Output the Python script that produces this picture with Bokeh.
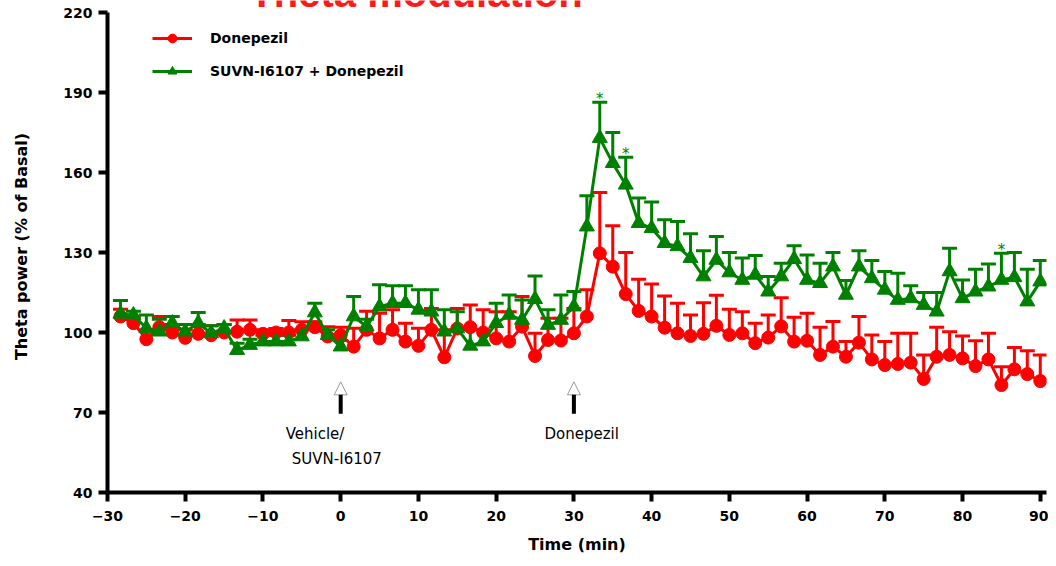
from bokeh.plotting import figure
from bokeh.models import (ColumnDataSource, Whisker, TeeHead, FixedTicker, Legend,
                          LegendItem, Arrow, NormalHead, Range1d)
from bokeh.core.properties import value
from bokeh.embed import file_html
from bokeh.resources import INLINE

# ---------------- data ----------------
time = [-28.33, -26.67, -25.0, -23.33, -21.67, -20.0, -18.33, -16.67, -15.0, -13.33,
        -11.67, -10.0, -8.33, -6.67, -5.0, -3.33, -1.67, 0.0, 1.67, 3.33,
        5.0, 6.67, 8.33, 10.0, 11.67, 13.33, 15.0, 16.67, 18.33, 20.0,
        21.67, 23.33, 25.0, 26.67, 28.33, 30.0, 31.67, 33.33, 35.0, 36.67,
        38.33, 40.0, 41.67, 43.33, 45.0, 46.67, 48.33, 50.0, 51.67, 53.33,
        55.0, 56.67, 58.33, 60.0, 61.67, 63.33, 65.0, 66.67, 68.33, 70.0,
        71.67, 73.33, 75.0, 76.67, 78.33, 80.0, 81.67, 83.33, 85.0, 86.67,
        88.33, 90.0]

donepezil_mean = [106.0, 103.5, 97.5, 102.0, 100.0, 98.0, 99.5, 99.0, 100.0, 100.3,
                  101.0, 99.5, 100.0, 100.0, 101.0, 102.0, 98.5, 99.0, 94.7, 101.0,
                  97.8, 101.0, 96.6, 95.0, 101.0, 90.7, 101.5, 102.0, 100.0, 97.8,
                  96.6, 102.2, 91.2, 97.2, 97.0, 99.7, 106.0, 129.7, 124.7, 114.4,
                  108.1, 106.0, 101.8, 99.7, 98.7, 99.5, 102.5, 99.1, 99.7, 96.0,
                  98.1, 102.3, 96.6, 96.9, 91.6, 94.7, 90.9, 96.2, 89.9, 87.8,
                  88.2, 88.7, 82.6, 90.9, 91.6, 90.3, 87.4, 89.9, 80.3, 86.2,
                  84.4, 81.8]

donepezil_upper = [108.7, 106.0, 101.0, 106.0, 103.0, 101.0, 103.0, 102.5, 103.0, 104.7,
                   104.7, 101.0, 101.5, 104.5, 104.0, 104.0, 102.2, 102.0, 101.6, 108.0,
                   107.2, 108.5, 103.5, 101.6, 109.0, 101.0, 109.0, 110.3, 108.5, 107.8,
                   107.8, 113.5, 99.7, 105.3, 105.3, 109.0, 116.0, 152.5, 140.0, 130.0,
                   120.0, 118.2, 113.7, 111.0, 106.6, 111.2, 114.0, 108.7, 107.8, 103.5,
                   106.6, 113.0, 105.7, 107.2, 102.0, 104.1, 96.6, 106.0, 99.1, 96.6,
                   99.7, 99.7, 91.6, 102.0, 100.3, 98.7, 96.9, 99.7, 87.2, 94.4,
                   93.2, 91.6]

combo_mean = [107.0, 106.5, 101.6, 100.3, 103.5, 100.3, 103.5, 99.7, 101.6, 93.4,
              95.3, 96.6, 96.6, 96.6, 98.5, 107.5, 99.0, 94.7, 106.0, 102.2,
              109.7, 111.0, 111.0, 108.5, 107.8, 100.3, 101.5, 95.0, 96.6, 103.5,
              106.6, 104.7, 112.5, 102.8, 104.7, 109.7, 139.7, 172.9, 163.5, 155.4,
              141.0, 139.1, 133.5, 132.3, 127.9, 121.0, 127.2, 122.5, 119.7, 121.6,
              115.3, 121.0, 127.5, 119.7, 118.5, 124.7, 114.1, 124.7, 120.3, 116.0,
              112.2, 112.8, 110.3, 107.8, 122.9, 112.8, 115.3, 117.2, 119.7, 120.7,
              111.6, 119.1]

combo_upper = [112.0, 108.0, 106.6, 105.0, 106.0, 103.0, 107.5, 102.5, 103.0, 96.0,
               97.5, 99.0, 99.0, 99.0, 101.0, 111.0, 101.0, 97.0, 113.5, 105.0,
               117.9, 117.5, 117.5, 116.0, 116.0, 108.5, 107.8, 101.0, 101.0, 111.0,
               114.1, 112.2, 121.2, 108.5, 114.1, 115.4, 151.3, 186.3, 175.0, 165.7,
               150.4, 148.9, 142.3, 141.6, 137.0, 130.7, 136.0, 130.0, 127.9, 128.9,
               121.0, 126.0, 132.5, 129.1, 126.0, 130.0, 119.5, 130.7, 127.0, 122.9,
               122.2, 117.5, 115.0, 115.0, 131.6, 119.7, 123.7, 125.7, 129.7, 130.0,
               123.7, 127.0]

significant_index = [37, 39, 68]          # points marked with "*"

x_ticks = [-30, -20, -10, 0, 10, 20, 30, 40, 50, 60, 70, 80, 90]
y_ticks = [40, 70, 100, 130, 160, 190, 220]

event_times = [0, 30]
event_text_x = [-3.3, -0.5, 31.0]
event_text_y = [61.9, 52.5, 61.9]
event_texts = ["Vehicle/", "SUVN-I6107", "Donepezil"]

title_text = ["Theta modulation"]
title_x = [9.7]
title_y = [222.5]

RED = "#ff0000"
GREEN = "#008000"
FONT = "DejaVu Sans"

# ---------------- figure ----------------
p = figure(width=1048, height=558, output_backend="svg", toolbar_location=None,
           title=None, x_range=Range1d(-30, 90.8), y_range=Range1d(40, 224.5),
           min_border_left=107, min_border_right=2, min_border_top=0, min_border_bottom=66)
p.xgrid.visible = False
p.ygrid.visible = False
p.outline_line_color = None
p.background_fill_color = "white"

p.xaxis.ticker = FixedTicker(ticks=x_ticks)
p.yaxis.ticker = FixedTicker(ticks=y_ticks)
p.yaxis.bounds = (40, 220)
for ax in (p.xaxis, p.yaxis):
    ax.axis_line_width = 4
    ax.axis_line_color = "black"
    ax.major_tick_line_width = 4
    ax.major_tick_line_color = "black"
    ax.major_tick_out = 9
    ax.major_tick_in = 0
    ax.minor_tick_line_color = None
    ax.major_label_text_font = FONT
    ax.major_label_text_font_style = "bold"
    ax.major_label_text_font_size = "14px"
    ax.major_label_text_color = "black"
    ax.axis_label_text_font = FONT
    ax.axis_label_text_font_style = "bold"
    ax.axis_label_text_font_size = "16px"
    ax.axis_label_text_color = "black"

p.xaxis.axis_label = "Time (min)"
p.yaxis.axis_label = "Theta power (% of Basal)"
p.xaxis.major_label_standoff = 9
p.xaxis.axis_label_standoff = 11
p.yaxis.major_label_standoff = 6
p.yaxis.axis_label_standoff = 29

src_d = ColumnDataSource(dict(t=time, m=donepezil_mean, u=donepezil_upper))
src_c = ColumnDataSource(dict(t=time, m=combo_mean, u=combo_upper))

# Donepezil series
p.add_layout(Whisker(base="t", upper="u", lower="m", source=src_d, dimension="height",
                     line_color=RED, line_width=3, lower_head=None,
                     upper_head=TeeHead(size=15, line_color=RED, line_width=3)))
r_line = p.line("t", "m", source=src_d, line_color=RED, line_width=3)
r_sc = p.scatter("t", "m", source=src_d, marker="circle", size=13,
                 fill_color=RED, line_color=RED)

# SUVN-I6107 + Donepezil series
p.add_layout(Whisker(base="t", upper="u", lower="m", source=src_c, dimension="height",
                     line_color=GREEN, line_width=3, lower_head=None,
                     upper_head=TeeHead(size=15, line_color=GREEN, line_width=3)))
g_line = p.line("t", "m", source=src_c, line_color=GREEN, line_width=3)
g_sc = p.scatter("t", "m", source=src_c, marker="triangle", size=15,
                 fill_color=GREEN, line_color=GREEN)

# significance asterisks
sig_src = ColumnDataSource(dict(x=[time[i] for i in significant_index],
                                y=[combo_upper[i] for i in significant_index],
                                s=["*"] * len(significant_index)))
p.text("x", "y", text="s", source=sig_src, text_color=GREEN, text_font=value(FONT),
       text_font_size="15px", text_align="center", text_baseline="middle", y_offset=-3)

# event arrows
for t in event_times:
    p.add_layout(Arrow(end=NormalHead(size=13, fill_color="white", line_color="#9a9a9a",
                                      line_width=1),
                       x_start=t, y_start=69.5, x_end=t, y_end=81.5,
                       line_width=4, line_color="black"))

ev_src = ColumnDataSource(dict(x=event_text_x, y=event_text_y, s=event_texts))
p.text("x", "y", text="s", source=ev_src, text_color="black", text_font=value(FONT),
       text_font_size="15px", text_align="center", text_baseline="middle")

# partially visible title (cut off at the top, as in the reference)
title_src = ColumnDataSource(dict(x=title_x, y=title_y, s=title_text))
p.text("x", "y", text="s", source=title_src, text_color="#ff1a1a",
       text_font=value("Liberation Sans"), text_font_style="bold",
       text_font_size="40px", text_align="center", text_baseline="alphabetic",
       y_offset=-13)

# legend
legend = Legend(items=[LegendItem(label="Donepezil", renderers=[r_line, r_sc]),
                       LegendItem(label="SUVN-I6107 + Donepezil", renderers=[g_line, g_sc])],
                location=(45, 410), padding=0, margin=0, spacing=11,
                glyph_width=40, glyph_height=22, label_height=22, label_standoff=18,
                label_text_font=FONT, label_text_font_style="bold",
                label_text_font_size="14px", label_text_color="black",
                border_line_color=None, background_fill_alpha=0)
p.add_layout(legend)

open("out.html", "w").write(file_html(p, INLINE))
